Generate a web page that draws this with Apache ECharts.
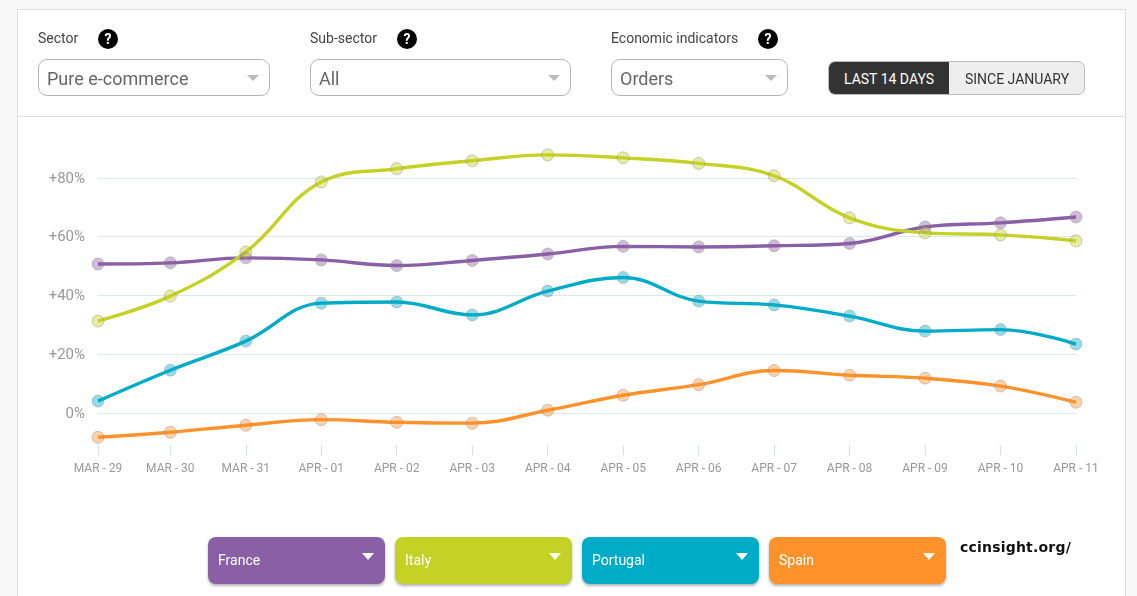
<!DOCTYPE html>
<html>
<head>
<meta charset="utf-8">
<script src="https://cdn.jsdelivr.net/npm/echarts@6/dist/echarts.min.js"></script>
<style>
  html, body { margin: 0; padding: 0; width: 1137px; height: 596px; overflow: hidden; background: #f8f8f8; font-family: Roboto, sans-serif; }
  #card { position: absolute; left: 17px; top: 9px; width: 1109px; height: 600px; background: #fff; border: 1px solid #dedede; box-sizing: border-box; }
  #divider { position: absolute; left: 18px; top: 116px; width: 1107px; height: 1px; background: #dedede; }
  #chart { position: absolute; left: 0; top: 0; width: 1137px; height: 596px; }
  .lbl { position: absolute; top: 30px; font-size: 14px; line-height: 16px; color: #444; }
  .help { position: absolute; top: 29px; width: 20px; height: 20px; border-radius: 50%; background: #000; color: #fff; font: bold 14px/20px Roboto, sans-serif; text-align: center; }
  .sel { position: absolute; top: 59px; height: 37px; box-sizing: border-box; border: 1px solid #b5b5b5; border-radius: 9px; background: #fff; color: #666; font-size: 18px; line-height: 37px; padding-left: 8px; }
  .sel i { position: absolute; right: 10px; top: 15px; border-left: 6px solid transparent; border-right: 6px solid transparent; border-top: 6px solid #bbb; }
  #toggle { position: absolute; left: 828px; top: 61px; width: 257px; height: 34px; box-sizing: border-box; border: 1px solid #bbb; border-radius: 7px; background: #eee; font-size: 14px; line-height: 35px; overflow: hidden; color: #333; }
  #toggle b { position: absolute; left: 0; top: 0; width: 120px; height: 34px; background: #333; color: #fff; font-weight: 400; text-align: center; }
  #toggle span { position: absolute; left: 120px; width: 136px; text-align: center; }
  .leg { position: absolute; top: 537px; width: 177px; height: 47px; border-radius: 8px; color: #fff; font-size: 14px; line-height: 46px; box-sizing: border-box; padding-left: 10px; box-shadow: 0 2px 3px rgba(0,0,0,.3); }
  .leg i { position: absolute; right: 11px; top: 16px; border-left: 6px solid transparent; border-right: 6px solid transparent; border-top: 7px solid #fff; }
  #mark { position: absolute; left: 960px; top: 539px; font: bold 14px/17px "DejaVu Sans", sans-serif; color: #111; letter-spacing: .2px; }
</style>
</head>
<body>
<div id="card"></div>
<div id="divider"></div>
<div id="chart"></div>
<div class="lbl" style="left:38px">Sector</div><div class="help" style="left:98px">?</div>
<div class="sel" style="left:38px;width:232px">Pure e-commerce<i></i></div>
<div class="lbl" style="left:310px">Sub-sector</div><div class="help" style="left:397px">?</div>
<div class="sel" style="left:310px;width:261px">All<i></i></div>
<div class="lbl" style="left:611px">Economic indicators</div><div class="help" style="left:758px">?</div>
<div class="sel" style="left:611px;width:177px">Orders<i></i></div>
<div id="toggle"><b>LAST 14 DAYS</b><span>SINCE JANUARY</span></div>
<div id="legend"></div>
<div id="mark">ccinsight.org/</div>
<script>
// dates on the x axis
const days = ['MAR - 29', 'MAR - 30', 'MAR - 31', 'APR - 01', 'APR - 02', 'APR - 03', 'APR - 04',
    'APR - 05', 'APR - 06', 'APR - 07', 'APR - 08', 'APR - 09', 'APR - 10', 'APR - 11'];
// hours since the first point: the first day is 23h long (clock change on Mar 29)
const hours = [0, 23, 47, 71, 95, 119, 143, 167, 191, 215, 239, 263, 287, 311];

// values (%)
const france = [50.7, 51.1, 52.8, 52.1, 50.2, 51.9, 54.1, 56.7, 56.5, 56.9, 57.7, 63.3, 64.7, 66.7];
const italy = [31.3, 39.8, 54.8, 78.6, 83.1, 85.8, 87.8, 86.8, 84.9, 80.7, 66.4, 61.3, 60.6, 58.6];
const portugal = [4.1, 14.6, 24.5, 37.4, 37.8, 33.4, 41.5, 46.1, 38.1, 36.8, 33.0, 27.9, 28.4, 23.5];
const spain = [-8.2, -6.5, -4.1, -2.2, -3.1, -3.4, 1.0, 6.1, 9.7, 14.5, 12.9, 11.9, 9.2, 3.7];

const names = ['France', 'Italy', 'Portugal', 'Spain'];
const colors = ['#8a5fa5', '#c5d225', '#00abc8', '#ff922b'];
const legendLefts = [208, 395, 582, 769];
const values = [france, italy, portugal, spain];

// legend buttons
document.getElementById('legend').innerHTML = names.map((name, i) =>
    `<div class="leg" style="left:${legendLefts[i]}px;background:${colors[i]}">${name}<i></i></div>`).join('');

const chart = echarts.init(document.getElementById('chart'), null, { renderer: 'canvas' });
chart.setOption({
    animation: false,
    backgroundColor: 'transparent',
    grid: { left: 98, top: 119, width: 978, height: 353 },
    xAxis: {
        type: 'value',
        min: 0,
        max: 311,
        offset: -27,
        axisLine: { show: false, onZero: false },
        axisTick: { show: true, customValues: hours, length: 10, lineStyle: { color: '#cfe2ec' } },
        axisLabel: {
            color: '#999', fontSize: 12, fontFamily: 'Roboto', margin: 18,
            customValues: hours,
            showMinLabel: true, showMaxLabel: true,
            formatter: v => days[hours.indexOf(v)]
        },
        splitLine: { show: false }
    },
    yAxis: {
        type: 'value',
        min: -20,
        max: 100,
        interval: 20,
        axisLine: { show: false },
        axisTick: { show: false },
        axisLabel: {
            color: '#999', fontSize: 15, fontFamily: 'Roboto', margin: 13,
            verticalAlign: 'top', lineHeight: 2,
            showMinLabel: false, showMaxLabel: false,
            formatter: v => (v > 0 ? '+' : '') + v + '%'
        },
        splitLine: { show: true, showMinLine: false, showMaxLine: false, lineStyle: { color: '#d8e8f0', width: 1 } }
    },
    series: names.map((name, i) => ({
        name: name,
        type: 'line',
        data: hours.map((h, j) => [h, values[i][j]]),
        smooth: 0.4,
        symbol: 'circle',
        symbolSize: 12,
        lineStyle: { color: colors[i], width: 3.4 },
        itemStyle: { color: colors[i], opacity: 0.42, borderColor: '#888', borderWidth: 1 }
    }))
});
</script>
</body>
</html>
